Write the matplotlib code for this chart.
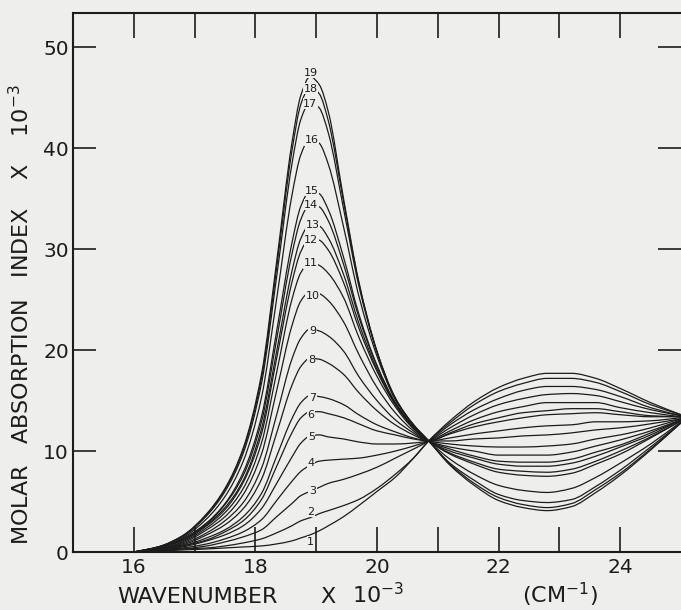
import numpy as np
import matplotlib.pyplot as plt
from matplotlib.path import Path
from matplotlib.patches import PathPatch

plt.rcParams['font.family'] = ['DejaVu Sans']
plt.rcParams['mathtext.default'] = 'regular'

INK = '#1c1c1c'
PAPER = '#eeeeec'

# wavenumber grid (x 10^-3 cm^-1)
wavenumber = [16.0, 16.4, 16.8, 17.2, 17.5, 17.8, 18.1, 18.35, 18.6, 18.75, 18.9,
              19.05, 19.2, 19.45, 19.7, 20.0, 20.3, 20.6, 20.85,
              21.2, 21.6, 22.0, 22.4, 22.8, 23.2, 23.6, 24.0, 24.5, 25.0]

# molar absorption index x 10^-3, curves 1..19
curve_01 = [0, 0.1, 0.2, 0.3, 0.4, 0.5, 0.6, 0.8, 1.1, 1.4, 1.7,
            2.1, 2.6, 3.5, 4.6, 6.0, 7.4, 9.3, 11.0,
            13.0, 14.9, 16.3, 17.2, 17.7, 17.7, 17.2, 16.2, 14.8, 13.6]
curve_02 = [0, 0.1, 0.3, 0.4, 0.6, 0.9, 1.3, 1.9, 2.6, 3.1, 3.4,
            3.8, 4.1, 4.6, 5.2, 6.3, 7.7, 9.3, 11.0,
            12.8, 14.6, 15.9, 16.7, 17.2, 17.2, 16.8, 15.9, 14.6, 13.6]
curve_03 = [0, 0.1, 0.3, 0.6, 1.0, 1.5, 2.2, 3.5, 4.8, 5.6, 6.0,
            6.4, 6.8, 7.2, 7.7, 8.4, 9.3, 10.2, 11.0,
            12.6, 14.1, 15.2, 16.0, 16.4, 16.4, 16.1, 15.4, 14.3, 13.5]
curve_04 = [0, 0.2, 0.4, 0.8, 1.3, 2.0, 3.2, 5.1, 7.0, 8.0, 8.6,
            9.0, 9.1, 9.2, 9.3, 9.6, 10.0, 10.5, 11.0,
            12.3, 13.6, 14.6, 15.2, 15.6, 15.7, 15.5, 14.9, 14.1, 13.5]
curve_05 = [0, 0.2, 0.5, 1.1, 1.7, 2.6, 4.3, 6.8, 9.4, 10.8, 11.5,
            11.6, 11.4, 11.2, 10.9, 10.7, 10.7, 10.8, 11.0,
            12.0, 13.1, 13.9, 14.4, 14.8, 14.8, 14.8, 14.3, 13.8, 13.4]
curve_06 = [0, 0.2, 0.6, 1.2, 2.0, 3.1, 5.2, 8.5, 11.8, 13.3, 13.9,
            13.9, 13.7, 13.3, 12.7, 12.0, 11.6, 11.2, 11.0,
            11.8, 12.7, 13.3, 13.8, 14.0, 14.2, 14.2, 13.9, 13.5, 13.4]
curve_07 = [0, 0.2, 0.6, 1.4, 2.2, 3.5, 5.8, 9.5, 13.2, 14.8, 15.5,
            15.4, 15.2, 14.6, 13.6, 12.6, 11.9, 11.3, 11.0,
            11.7, 12.4, 12.9, 13.3, 13.6, 13.7, 13.8, 13.6, 13.4, 13.4]
curve_08 = [0, 0.3, 0.7, 1.7, 2.7, 4.3, 7.2, 11.8, 16.5, 18.4, 19.2,
            19.1, 18.7, 17.6, 15.8, 14.0, 12.6, 11.6, 11.0,
            11.3, 11.7, 12.0, 12.3, 12.5, 12.6, 12.9, 12.9, 13.0, 13.3]
curve_09 = [0, 0.3, 0.8, 1.9, 3.1, 4.9, 8.3, 13.6, 19.1, 21.2, 22.1,
            21.9, 21.4, 19.9, 17.4, 15.0, 13.1, 11.8, 11.0,
            11.0, 11.2, 11.3, 11.5, 11.6, 11.8, 12.1, 12.3, 12.7, 13.2]
curve_10 = [0, 0.3, 0.9, 2.2, 3.5, 5.7, 9.7, 16.0, 22.4, 24.9, 25.8,
            25.6, 24.9, 22.8, 19.6, 16.3, 13.8, 12.0, 11.0,
            10.7, 10.5, 10.4, 10.4, 10.5, 10.7, 11.2, 11.6, 12.3, 13.2]
curve_11 = [0, 0.3, 1.0, 2.4, 3.9, 6.3, 10.8, 17.8, 25.0, 27.7, 28.7,
            28.4, 27.6, 25.2, 21.3, 17.4, 14.4, 12.2, 11.0,
            10.4, 10.0, 9.6, 9.6, 9.6, 9.9, 10.5, 11.1, 12.0, 13.1]
curve_12 = [0, 0.4, 1.1, 2.6, 4.2, 6.9, 11.7, 19.2, 26.7, 29.8, 31.1,
            30.9, 29.9, 26.7, 22.2, 17.9, 14.6, 12.3, 11.0,
            10.2, 9.5, 9.0, 8.9, 8.9, 9.2, 9.9, 10.6, 11.8, 13.1]
curve_13 = [0, 0.4, 1.2, 2.7, 4.4, 7.1, 12.2, 19.9, 27.8, 31.1, 32.5,
            32.3, 31.1, 27.5, 22.7, 18.1, 14.7, 12.4, 11.0,
            10.0, 9.3, 8.7, 8.5, 8.5, 8.8, 9.5, 10.4, 11.6, 13.1]
curve_14 = [0, 0.4, 1.2, 2.8, 4.7, 7.6, 12.9, 21.1, 29.5, 33.0, 34.5,
            34.2, 32.8, 28.5, 23.3, 18.4, 14.8, 12.4, 11.0,
            9.8, 8.9, 8.2, 8.0, 7.9, 8.2, 9.0, 10.0, 11.4, 13.0]
curve_15 = [0, 0.4, 1.3, 2.9, 4.8, 7.9, 13.4, 21.9, 30.6, 34.3, 35.8,
            35.5, 33.9, 29.2, 23.6, 18.5, 14.8, 12.4, 11.0,
            9.7, 8.7, 7.9, 7.6, 7.5, 7.8, 8.7, 9.7, 11.3, 13.0]
curve_16 = [0, 0.5, 1.4, 3.3, 5.5, 9.0, 15.3, 25.1, 35.3, 39.4, 41.0,
            40.5, 38.4, 32.2, 25.4, 19.4, 15.1, 12.6, 11.0,
            9.2, 7.7, 6.6, 6.1, 5.9, 6.3, 7.4, 8.8, 10.7, 12.9]
curve_17 = [0, 0.5, 1.5, 3.6, 6.0, 9.8, 16.7, 27.3, 38.4, 42.9, 44.6,
            44.0, 41.5, 34.0, 26.4, 19.8, 15.3, 12.6, 11.0,
            8.8, 7.1, 5.7, 5.1, 4.9, 5.2, 6.5, 8.1, 10.4, 12.8]
curve_18 = [0, 0.5, 1.6, 3.7, 6.2, 10.1, 17.2, 28.2, 39.7, 44.4, 46.1,
            45.4, 42.7, 34.7, 26.7, 19.9, 15.2, 12.6, 11.0,
            8.7, 6.8, 5.4, 4.7, 4.4, 4.8, 6.2, 7.8, 10.2, 12.8]
curve_19 = [0, 0.5, 1.6, 3.8, 6.3, 10.3, 17.6, 28.8, 40.5, 45.3, 47.1,
            46.3, 43.6, 35.0, 26.8, 19.8, 15.2, 12.6, 11.0,
            8.6, 6.6, 5.1, 4.4, 4.1, 4.5, 5.9, 7.6, 10.1, 12.8]

curves = [curve_01, curve_02, curve_03, curve_04, curve_05, curve_06, curve_07,
          curve_08, curve_09, curve_10, curve_11, curve_12, curve_13, curve_14,
          curve_15, curve_16, curve_17, curve_18, curve_19]

# where the curve numbers sit
label_x = [18.91, 18.91, 18.94, 18.92, 18.92, 18.91, 18.94, 18.92, 18.94, 18.94,
           18.91, 18.92, 18.94, 18.92, 18.92, 18.92, 18.90, 18.91, 18.91]
label_y = [1.0, 4.0, 6.0, 8.8, 11.4, 13.6, 15.3, 19.0, 21.9, 25.4,
           28.6, 30.9, 32.4, 34.4, 35.8, 40.8, 44.4, 45.9, 47.5]

x_ticks = [16, 17, 18, 19, 20, 21, 22, 23, 24]
x_ticklabels = ['16', '', '18', '', '20', '', '22', '', '24']
y_ticks = [0, 10, 20, 30, 40, 50]


def smooth_path(x, y):
    # cubic bezier through the read points (monotone slopes, no overshoot)
    x = np.asarray(x, float)
    y = np.asarray(y, float)
    h = np.diff(x)
    d = np.diff(y) / h
    m = np.zeros_like(y)
    m[0], m[-1] = d[0], d[-1]
    for k in range(1, len(x) - 1):
        if d[k - 1] * d[k] > 0:
            w1 = 2 * h[k] + h[k - 1]
            w2 = h[k] + 2 * h[k - 1]
            m[k] = (w1 + w2) / (w1 / d[k - 1] + w2 / d[k])
    verts = [(x[0], y[0])]
    codes = [Path.MOVETO]
    for k in range(len(x) - 1):
        verts += [(x[k] + h[k] / 3, y[k] + m[k] * h[k] / 3),
                  (x[k + 1] - h[k] / 3, y[k + 1] - m[k + 1] * h[k] / 3),
                  (x[k + 1], y[k + 1])]
        codes += [Path.CURVE4] * 3
    return Path(verts, codes)


W, H = 681, 610
fig = plt.figure(figsize=(W / 100, H / 100), dpi=100, facecolor=PAPER)
ax = fig.add_axes([73 / W, 1 - 552 / H, 608 / W, 539 / H])
ax.set_facecolor(PAPER)

for ys in curves:
    ax.add_patch(PathPatch(smooth_path(wavenumber, ys), fill=False,
                           ec=INK, lw=0.9, joinstyle='round'))

for i, (lx, ly) in enumerate(zip(label_x, label_y)):
    ax.text(lx, ly, str(i + 1), fontsize=8, ha='center', va='center', color=INK,
            bbox=dict(boxstyle='square,pad=0.05', fc=PAPER, ec='none'))

ax.set_xlim(15, 25)
ax.set_ylim(0, 53.4)
ax.set_xticks(x_ticks)
ax.set_xticklabels(x_ticklabels)
ax.set_yticks(y_ticks)
ax.tick_params(axis='x', direction='in', length=18, width=1.2, top=True,
               labelsize=14.5, pad=4, colors=INK)
ax.tick_params(axis='y', direction='in', length=16.5, width=1.2, right=True,
               labelsize=14.5, pad=3, colors=INK)
for sp in ax.spines.values():
    sp.set_linewidth(1.5)
    sp.set_color(INK)
ax.spines['right'].set_visible(False)

# axis titles, placed piece by piece like the hand lettering
fig.text(117 / W, 1 - 603 / H, 'WAVENUMBER', fontsize=16, color=INK, ha='left', va='baseline')
fig.text(320 / W, 1 - 603 / H, 'X', fontsize=16, color=INK, ha='left', va='baseline')
fig.text(352 / W, 1 - 603 / H, '10$^{-3}$', fontsize=16, color=INK, ha='left', va='baseline')
fig.text(522 / W, 1 - 603 / H, '(CM$^{-1}$)', fontsize=16, color=INK, ha='left', va='baseline')
fig.text(21 / W, 1 - 545 / H, 'MOLAR   ABSORPTION   INDEX    X    10$^{-3}$',
         fontsize=16, color=INK, rotation=90, ha='center', va='bottom')

fig.savefig('out.png', dpi=100, facecolor=PAPER)
